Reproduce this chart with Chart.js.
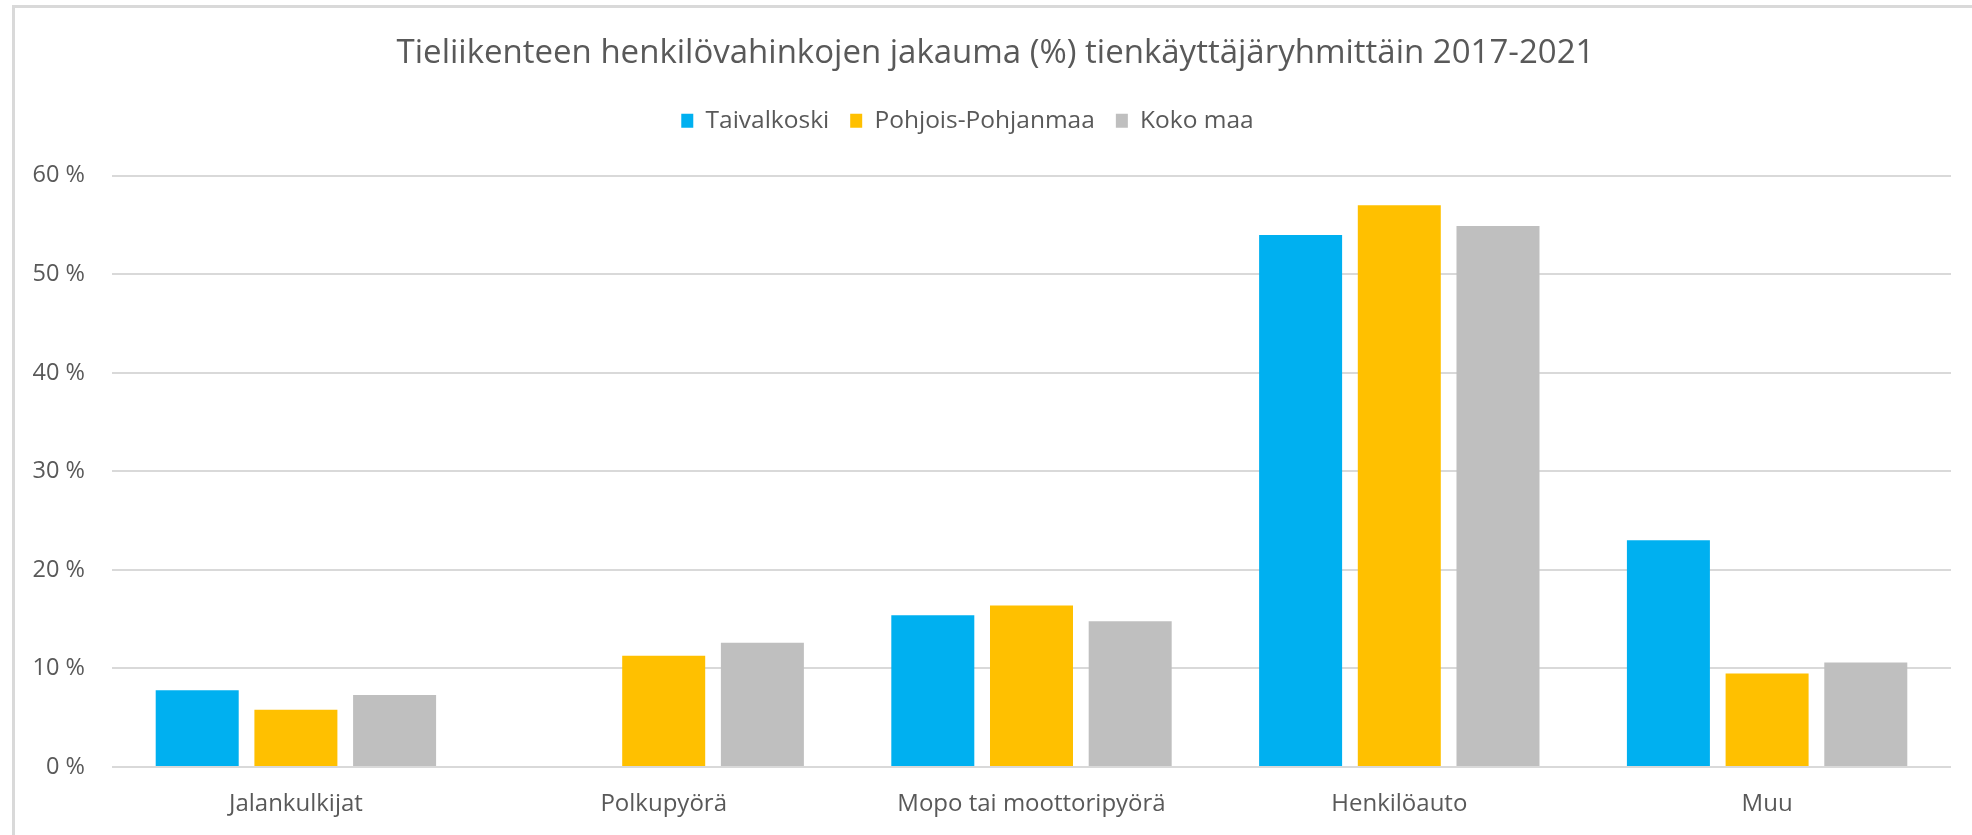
<!DOCTYPE html>
<html>
<head>
<meta charset="utf-8">
<script src="https://cdn.jsdelivr.net/npm/chart.js@4"></script>
<style>
  html, body { margin: 0; padding: 0; background: #ffffff; }
  #wrap { position: relative; width: 1972px; height: 835px; overflow: hidden; }
  #frame { position: absolute; left: 12px; top: 5px; right: -10px; bottom: -10px;
           border-left: 3px solid #d9d9d9; border-top: 3px solid #d9d9d9; pointer-events: none; }
  canvas { position: absolute; left: 0; top: 0; }
</style>
</head>
<body>
<div id="wrap">
  <canvas id="c" width="1972" height="835"></canvas>
  <div id="frame"></div>
</div>
<script>
const titleText = 'Tieliikenteen henkilövahinkojen jakauma (%) tienkäyttäjäryhmittäin 2017-2021';
const categories = ['Jalankulkijat', 'Polkupyörä', 'Mopo tai moottoripyörä', 'Henkilöauto', 'Muu'];
const seriesNames = ['Taivalkoski', 'Pohjois-Pohjanmaa', 'Koko maa'];
const taivalkoski = [7.8, 0, 15.4, 54.0, 23.0];
const pohjoisPohjanmaa = [5.8, 11.3, 16.4, 57.0, 9.5];
const kokoMaa = [7.3, 12.6, 14.8, 54.9, 10.6];
const yTicks = [0, 10, 20, 30, 40, 50, 60];

const colors = ['#00B0F0', '#FFC000', '#BFBFBF'];
const textColor = '#595959';
const fontFamily = '"Open Sans", "Noto Sans", sans-serif';

// nudge the title right and the legend left, as in the original layout
const headerShift = {
  id: 'headerShift',
  afterLayout(chart) {
    if (chart.titleBlock) {
      chart.titleBlock.left += 20;
      chart.titleBlock.right += 20;
    }
    if (chart.legend) {
      chart.legend.left -= 8;
      chart.legend.right -= 8;
    }
  }
};

const ctx = document.getElementById('c').getContext('2d');
new Chart(ctx, {
  type: 'bar',
  data: {
    labels: categories,
    datasets: [taivalkoski, pohjoisPohjanmaa, kokoMaa].map((d, i) => ({
      label: seriesNames[i],
      data: d,
      backgroundColor: colors[i],
      borderWidth: 0,
      barPercentage: 0.841,
      categoryPercentage: 0.805
    }))
  },
  plugins: [headerShift],
  options: {
    responsive: false,
    devicePixelRatio: 1,
    animation: false,
    layout: { padding: { left: 0, right: 21, top: 0, bottom: 0 } },
    plugins: {
      title: {
        display: true,
        text: titleText,
        color: textColor,
        font: { family: fontFamily, size: 33, weight: 'normal' },
        padding: { top: 34, bottom: 14 }
      },
      subtitle: {
        display: true,
        text: ' ',
        weight: 500,
        font: { family: fontFamily, size: 1 },
        padding: { top: 31.5, bottom: 0 }
      },
      legend: {
        display: true,
        position: 'top',
        labels: {
          color: textColor,
          font: { family: fontFamily, size: 24.5 },
          boxWidth: 12,
          boxHeight: 14,
          padding: 21
        }
      },
      tooltip: { enabled: false }
    },
    scales: {
      x: {
        grid: { display: false, drawTicks: false },
        border: { display: false },
        ticks: { color: textColor, font: { family: fontFamily, size: 24 }, padding: 23, maxRotation: 0 },
        afterFit: (s) => { s.height = 68; }
      },
      y: {
        min: 0,
        max: 60,
        afterBuildTicks: (s) => { s.ticks = yTicks.map(v => ({ value: v })); },
        grid: { color: '#d9d9d9', lineWidth: 2, drawTicks: false },
        border: { display: false },
        ticks: { color: textColor, font: { family: fontFamily, size: 23.5 }, padding: 27,
                 callback: (v) => v + ' %' },
        afterFit: (s) => { s.width = 112; }
      }
    }
  }
});
</script>
</body>
</html>
